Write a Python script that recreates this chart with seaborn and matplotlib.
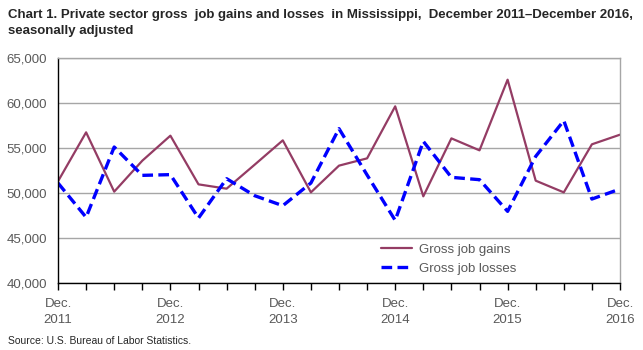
import matplotlib
matplotlib.use("Agg")
import matplotlib.pyplot as plt
import seaborn as sns
import pandas as pd
from matplotlib.ticker import FuncFormatter, MultipleLocator

# Quarterly gross job gains and losses, Dec 2011 - Dec 2016
quarters = list(range(21))
gains = [51300, 56740, 50150, 53590, 56370, 50960, 50480, 53150, 55850, 50070,
         53040, 53850, 59630, 49630, 56070, 54740, 62590, 51370, 50070, 55410, 56480]
losses = [51110, 47300, 55110, 51960, 52040, 47220, 51590, 49700, 48590, 51110,
          57150, 52000, 46960, 55740, 51740, 51480, 47960, 54070, 58040, 49330, 50440]
year_labels = ["Dec.\n2011", "Dec.\n2012", "Dec.\n2013", "Dec.\n2014", "Dec.\n2015", "Dec.\n2016"]

sns.set_style("white")
plt.rcParams["font.family"] = ["Liberation Sans", "DejaVu Sans"]

df = pd.DataFrame({"q": quarters, "gains": gains, "losses": losses})

fig = plt.figure(figsize=(6.43, 3.5), dpi=100)
ax = fig.add_axes([58 / 643, 1 - 283 / 350, (620 - 58) / 643, (283 - 58) / 350])

sns.lineplot(data=df, x="q", y="gains", ax=ax, color="#943C64", linewidth=1.6,
             label="Gross job gains")
sns.lineplot(data=df, x="q", y="losses", ax=ax, color="#0000FF", linewidth=2.4,
             label="Gross job losses", dashes=False)
ax.lines[1].set_dashes((3.2, 1.6))

ax.set_xlim(0, 20)
ax.set_ylim(40000, 65000)
ax.yaxis.set_major_locator(MultipleLocator(5000))
ax.yaxis.set_major_formatter(FuncFormatter(lambda v, p: f"{int(v):,}"))
ax.set_xticks(range(0, 21, 4))
ax.set_xticklabels(year_labels, linespacing=1.45)
ax.set_xticks(range(21), minor=True)
ax.set_xlabel("")
ax.set_ylabel("")

ax.grid(axis="y", color="#A6A6A6", linewidth=1.0)
ax.set_axisbelow(True)
for side in ["top", "right"]:
    ax.spines[side].set_color("#A6A6A6")
    ax.spines[side].set_linewidth(1.0)
for side in ["left", "bottom"]:
    ax.spines[side].set_color("black")
    ax.spines[side].set_linewidth(1.0)

ax.tick_params(axis="x", which="both", direction="out", length=5, width=1,
               color="black", bottom=True, labelsize=9.5, labelcolor="#595959", pad=6)
ax.tick_params(axis="y", length=0, labelsize=9.5, labelcolor="#595959", pad=8)

leg = ax.legend(loc="upper left", bbox_to_anchor=(0.565, 0.2), frameon=False,
                fontsize=9.5, handlelength=2.4, labelspacing=0.55, handletextpad=0.5,
                borderaxespad=0)
for t in leg.get_texts():
    t.set_color("#595959")

fig.text(8 / 643, 1 - 9 / 350,
         "Chart 1. Private sector gross  job gains and losses  in Mississippi,  December 2011\u2013December 2016,\nseasonally adjusted",
         ha="left", va="top", fontsize=9.5, fontweight="bold", linespacing=1.4)
fig.text(8 / 643, 1 - 341 / 350, "Source: U.S. Bureau of Labor Statistics.",
         ha="left", va="center", fontsize=7.5)

fig.savefig("out.png", dpi=100)
